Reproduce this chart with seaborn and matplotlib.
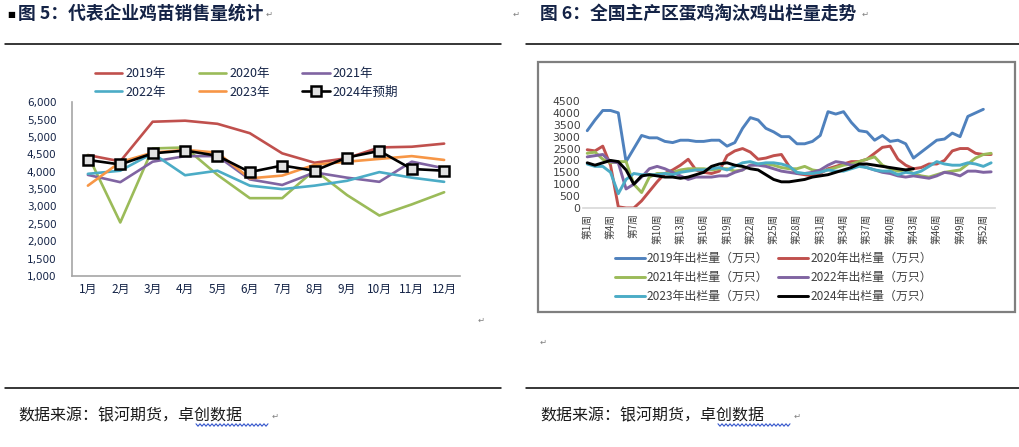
import numpy as np
import pandas as pd
import matplotlib.pyplot as plt
import seaborn as sns
from matplotlib.lines import Line2D
from matplotlib.patches import Rectangle

# 图5: 代表企业鸡苗销售量
months = ['1月', '2月', '3月', '4月', '5月', '6月', '7月', '8月', '9月', '10月', '11月', '12月']
sales_2019 = [4480, 4300, 5440, 5470, 5380, 5110, 4530, 4260, 4390, 4700, 4720, 4810]
sales_2020 = [4480, 2540, 4670, 4700, 3910, 3240, 3240, 4050, 3330, 2740, 3060, 3410]
sales_2021 = [3910, 3700, 4290, 4450, 4450, 3780, 3620, 3980, 3830, 3710, 4290, 4100]
sales_2022 = [3940, 4030, 4530, 3900, 4030, 3600, 3500, 3600, 3740, 3990, 3830, 3710]
sales_2023 = [3600, 4280, 4550, 4630, 4550, 3810, 3890, 4200, 4290, 4370, 4450, 4340]
sales_2024 = [4340, 4210, 4530, 4610, 4460, 3990, 4180, 4030, 4410, 4600, 4080, 4030]

# 图6: 淘汰鸡出栏量 (万只), 按周
weeks = list(range(1, 54))
week_ticks = list(range(1, 53, 3))
out_2019 = [3250, 3700, 4100, 4100, 4000, 1950, 2500, 3050, 2950, 2950,
            2800, 2750, 2850, 2850, 2800, 2800, 2850, 2850, 2600, 2750,
            3350, 3800, 3700, 3350, 3200, 3000, 3000, 2700, 2700, 2800,
            3050, 4050, 3950, 4050, 3600, 3250, 3200, 2850, 3050, 2800,
            2850, 2700, 2100, 2350, 2600, 2850, 2900, 3150, 3000, 3850,
            4000, 4150]
out_2020 = [2450, 2400, 2600, 1800, 50, 0, 0, 300, 700, 1100,
            1450, 1600, 1800, 2050, 1600, 1500, 1450, 1550, 2200, 2400,
            2500, 2350, 2050, 2100, 2200, 2250, 1750, 1450, 1400, 1350,
            1450, 1650, 1750, 1850, 1950, 1950, 2050, 2300, 2550, 2600,
            2050, 1800, 1650, 1700, 1850, 1850, 2000, 2400, 2500, 2500,
            2300, 2250, 2250]
out_2021 = [2300, 2350, 2050, 1900, 1950, 1950, 1000, 650, 1300, 1450,
            1450, 1500, 1600, 1650, 1650, 1650, 1600, 1650, 1650, 1550,
            1600, 1800, 1850, 1850, 1800, 1700, 1650, 1650, 1750, 1600,
            1550, 1600, 1700, 1800, 1850, 1950, 2050, 2150, 1800, 1650,
            1550, 1600, 1450, 1350, 1300, 1400, 1500, 1550, 1600, 1850,
            2100, 2250, 2300]
out_2022 = [2150, 2200, 2250, 1950, 1900, 800, 1000, 1300, 1650, 1750,
            1650, 1500, 1350, 1200, 1300, 1300, 1300, 1350, 1350, 1500,
            1600, 1800, 1800, 1750, 1650, 1550, 1500, 1450, 1450, 1500,
            1600, 1800, 1950, 1900, 1800, 1800, 1700, 1600, 1500, 1450,
            1350, 1300, 1350, 1300, 1250, 1350, 1500, 1450, 1350, 1550,
            1550, 1500, 1520]
out_2023 = [1850, 1750, 1750, 1500, 600, 1200, 1450, 1400, 1400, 1400,
            1450, 1400, 1500, 1550, 1600, 1600, 1650, 1700, 1600, 1750,
            1900, 1950, 1850, 1900, 1900, 1850, 1750, 1500, 1450, 1450,
            1500, 1600, 1550, 1550, 1650, 1750, 1700, 1600, 1550, 1550,
            1400, 1500, 1450, 1550, 1750, 1950, 1850, 1800, 1800, 1900,
            1850, 1750, 1900]
out_2024 = [1900, 1800, 1900, 2000, 1950, 1600, 1000, 1350, 1400, 1350,
            1300, 1300, 1250, 1300, 1400, 1500, 1750, 1850, 1900, 1800,
            1750, 1650, 1600, 1400, 1200, 1100, 1100, 1150, 1200, 1300,
            1350, 1400, 1500, 1600, 1700, 1850, 1850, 1800, 1750, 1700,
            1650, 1600, 1650]

RED, GREEN, PURPLE, CYAN, ORANGE, BLUE = '#C0504D', '#9BBB59', '#8064A2', '#4BACC6', '#F79646', '#4F81BD'
NAVY = '#142346'

sns.set_theme(style="white")
plt.rcParams['font.family'] = ['Noto Sans CJK SC', 'DejaVu Sans']

fig = plt.figure(figsize=(10.2, 4.47), dpi=100)

# ---------- left chart ----------
ax1 = fig.add_axes([0.0703, 0.3826, 0.381, 0.3886])
left_series = [('2019年', sales_2019, RED), ('2020年', sales_2020, GREEN),
               ('2021年', sales_2021, PURPLE), ('2022年', sales_2022, CYAN),
               ('2023年', sales_2023, ORANGE)]
mx = list(range(1, 13))
for name, vals, col in left_series:
    sns.lineplot(x=mx, y=vals, ax=ax1, color=col, lw=1.9, label=name)
sns.lineplot(x=mx, y=sales_2024, ax=ax1, color='black', lw=1.9, marker='s',
             markersize=7, markerfacecolor='#E0E0E0', markeredgecolor='black',
             markeredgewidth=1.8, label='2024年预期')

ax1.set_xlim(0.5, 12.5)
ax1.set_ylim(1000, 6000)
ax1.set_yticks(range(1000, 6001, 500))
ax1.set_yticklabels([f'{v:,}' for v in range(1000, 6001, 500)], family='DejaVu Sans')
ax1.set_xticks(mx)
ax1.set_xticklabels(months)
ax1.tick_params(length=0, labelsize=7.5, colors=NAVY)
ax1.tick_params(axis='y', pad=11)
ax1.tick_params(axis='x', labelsize=8.5, pad=5)
for s in ['top', 'right']:
    ax1.spines[s].set_visible(False)
for s in ['left', 'bottom']:
    ax1.spines[s].set_color('#A6A6A6')
    ax1.spines[s].set_linewidth(1.2)
ax1.set_xlabel('')
ax1.set_ylabel('')

h, l = ax1.get_legend_handles_labels()
order = [0, 3, 1, 4, 2, 5]
ax1.legend([h[i] for i in order], [l[i] for i in order], ncol=3, frameon=False,
           loc='upper left', bbox_to_anchor=(95 / 1020, 1 - 67 / 447), bbox_transform=fig.transFigure,
           fontsize=9, handlelength=2.2, handletextpad=0.25, columnspacing=2.6,
           labelspacing=0.45, borderaxespad=0, borderpad=0, labelcolor=NAVY)

# ---------- right chart ----------
fig.add_artist(Rectangle((538 / 1020, 1 - 312 / 447), 477 / 1020, 250 / 447,
                         transform=fig.transFigure, fill=False, edgecolor='#7F7F7F', lw=1.6))

ax2 = fig.add_axes([0.5719, 0.5347, 0.4036, 0.2394])
right_series = [('2019年出栏量（万只）', out_2019, BLUE), ('2020年出栏量（万只）', out_2020, RED),
                ('2021年出栏量（万只）', out_2021, GREEN), ('2022年出栏量（万只）', out_2022, PURPLE),
                ('2023年出栏量（万只）', out_2023, CYAN), ('2024年出栏量（万只）', out_2024, 'black')]
for name, vals, col in right_series:
    df = pd.DataFrame({'week': weeks[:len(vals)], 'value': vals})
    sns.lineplot(data=df, x='week', y='value', ax=ax2, color=col, lw=2.1, label=name)

ax2.set_xlim(0.5, 53.5)
ax2.set_ylim(0, 4500)
ax2.set_yticks(range(0, 4501, 500))
ax2.set_yticklabels([str(v) for v in range(0, 4501, 500)], family='DejaVu Sans')
ax2.set_xticks(week_ticks)
ax2.set_xticklabels([f'第{w}周' for w in week_ticks], rotation=90)
ax2.tick_params(length=0, labelsize=7, colors='#404040', pad=4)
ax2.tick_params(axis='y', labelsize=7.8, pad=2)
for s in ['top', 'right', 'left']:
    ax2.spines[s].set_visible(False)
ax2.spines['bottom'].set_color('#D9D9D9')
ax2.set_xlabel('')
ax2.set_ylabel('')

h, l = ax2.get_legend_handles_labels()
order = [0, 2, 4, 1, 3, 5]
ax2.legend([h[i] for i in order], [l[i] for i in order], ncol=2, frameon=False,
           loc='upper left', bbox_to_anchor=(615 / 1020, 1 - 252 / 447), bbox_transform=fig.transFigure,
           fontsize=8.6, handlelength=2.5, handletextpad=0.15, columnspacing=0.85,
           labelspacing=0.5, borderaxespad=0, borderpad=0, labelcolor='#404040')

# ---------- page text ----------
fig.text(7 / 1020, 1 - 14 / 447, '■', fontsize=6, va='center', ha='left', color='black',
         family='DejaVu Sans')
fig.text(18 / 1020, 1 - 14 / 447, '图 5：代表企业鸡苗销售量统计', fontsize=12.8, fontweight='bold',
         va='center', ha='left', color=NAVY)
fig.text(540 / 1020, 1 - 14 / 447, '图 6：全国主产区蛋鸡淘汰鸡出栏量走势', fontsize=12.8, fontweight='bold',
         va='center', ha='left', color=NAVY)
for x0, x1, y in [(5, 501, 44), (526, 1020, 44), (5, 501, 388), (526, 1020, 388)]:
    fig.add_artist(Line2D([x0 / 1020, x1 / 1020], [1 - y / 447, 1 - y / 447],
                          transform=fig.transFigure, color='black', lw=1.1))
for x in [18, 540]:
    fig.text(x / 1020, 1 - 416 / 447, '数据来源：银河期货，卓创数据', fontsize=11.5,
             va='center', ha='left', color='#1A1A1A')
# wavy underline below 卓创数据
for x0 in [196, 718]:
    zx = np.arange(x0, x0 + 74, 2.0)
    zy = 425 + np.where(np.arange(len(zx)) % 2 == 0, -1.2, 1.2)
    fig.add_artist(Line2D(zx / 1020, 1 - zy / 447, transform=fig.transFigure,
                          color='#3355CC', lw=0.8))
# paragraph marks
for x, y in [(266, 14), (513, 14), (862, 14), (478, 320), (540, 342), (272, 416), (794, 416)]:
    fig.text(x / 1020, 1 - y / 447, '↵', fontsize=6, color='#808080', va='center', ha='left',
             family='DejaVu Sans')

fig.savefig('out.png', dpi=100)
